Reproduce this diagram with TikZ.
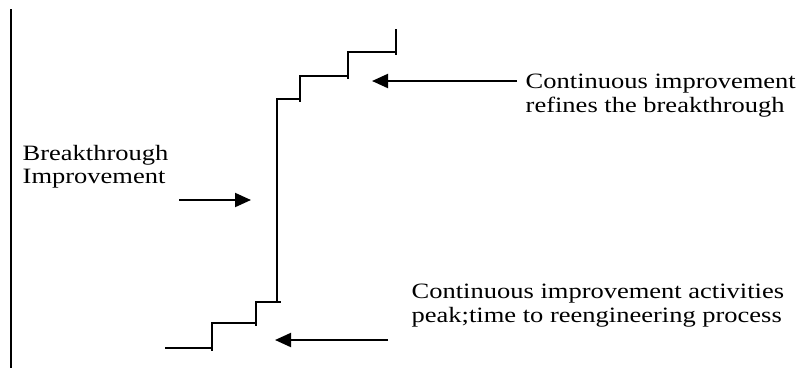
\documentclass[tikz,border=0pt]{standalone}
\usepackage{fontspec}
\setmainfont{Liberation Serif}[FakeStretch=1.21]
\usetikzlibrary{arrows.meta}
\begin{document}
\begin{tikzpicture}[x=1pt,y=-1pt,
  lbl/.style={anchor=base west, inner sep=0pt, align=left, font=\fontsize{21.9}{23.3}\selectfont},
  arr/.style={line width=2pt, -{Triangle[length=16pt,width=14pt]}},
  stair/.style={line width=1.8pt},
  axisline/.style={line width=2pt}]
\useasboundingbox (0,0) rectangle (799,368);
% left axis
\draw[axisline] (11,9) -- (11,368);
% staircase
\draw[stair] (165,348) -- (212,348) -- (212,323) -- (256,323) -- (256,302) -- (280.5,302);
\draw[stair] (277,302) -- (277,99) -- (300,99) -- (300,76) -- (348,76) -- (348,52) -- (396,52) -- (396,29);
\draw[stair] (212,348) -- (212,350.5);
\draw[stair] (256,323) -- (256,325.5);
\draw[stair] (300,99) -- (300,101.5);
\draw[stair] (348,76) -- (348,78.5);
\draw[stair] (396,52) -- (396,54.5);
% labels (base anchor = baseline of the last line)
\node[lbl] (bt) at (22.5,183.3) {Breakthrough\\Improvement};
\node[lbl] (ci) at (525.5,112) {Continuous improvement\\refines the breakthrough};
\node[lbl] (cp) at (411.5,322) {Continuous improvement activities\\peak;time to reengineering process};
% arrow ends
\coordinate (b1) at (179,200);
\coordinate (b2) at (251,200);
\coordinate (r1) at (517,81);
\coordinate (r2) at (372,81);
\coordinate (p1) at (388,340);
\coordinate (p2) at (275,340);
\draw[arr] (b1) -- (b2);
\draw[arr] (r1) -- (r2);
\draw[arr] (p1) -- (p2);
\end{tikzpicture}
\end{document}
